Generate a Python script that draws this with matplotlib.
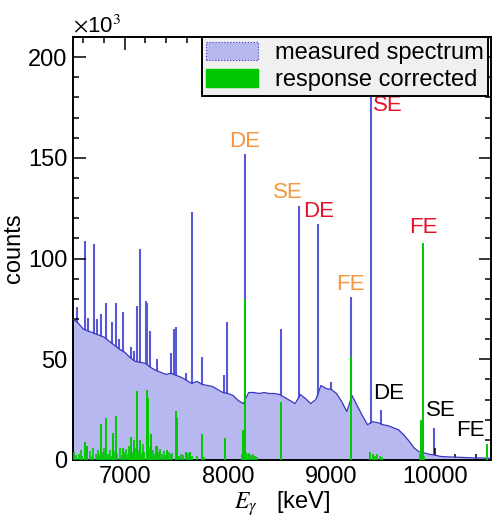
import numpy as np
import matplotlib
matplotlib.use("Agg")
import matplotlib.pyplot as plt
from matplotlib.patches import Patch
from matplotlib.ticker import MultipleLocator

plt.rcParams['font.family'] = ['Liberation Sans', 'DejaVu Sans']
plt.rcParams['mathtext.fontset'] = 'stix'

# measured continuum (keV, counts in 1e3)
cont_e = [6500, 6550, 6600, 6650, 6700, 6750, 6800, 6850, 6900, 6950,
          7000, 7050, 7100, 7150, 7200, 7250, 7300, 7350, 7400, 7450,
          7500, 7550, 7600, 7650, 7700, 7750, 7800, 7850, 7900, 7950,
          8000, 8050, 8100, 8150, 8200, 8250, 8300, 8350, 8400, 8450,
          8500, 8550, 8600, 8650, 8700, 8750, 8800, 8850, 8900, 8950,
          9000, 9050, 9100, 9150, 9200, 9250, 9300, 9350, 9400, 9450,
          9500, 9550, 9600, 9650, 9700, 9750, 9800, 9850, 9900, 9950,
          10000, 10050, 10100, 10150, 10200, 10250, 10300, 10350, 10400,
          10450, 10500, 10550]
cont_c = [70, 68, 65, 64, 63, 62, 61, 59, 57, 55,
          53.5, 51, 49, 48.5, 48, 46, 44.5, 43.5, 42.5, 43,
          42, 41, 39.5, 38, 39, 37.5, 37, 36.5, 35, 33.5,
          33, 32, 29.5, 28, 33.5, 33.5, 33, 33.5, 33, 33,
          32.5, 31, 29.5, 28, 32.5, 30.5, 28, 30, 37, 35.5,
          35, 33, 29, 24, 32, 27, 22, 17.5, 19, 18.5,
          17.5, 17, 16, 15, 12.5, 9.5, 6, 4, 3.5, 2.8,
          2.5, 1.8, 1.6, 1.5, 1.4, 1.3, 1.2, 1.1, 1.0,
          1.0, 0.9, 0.9]

# measured peaks (keV, counts in 1e3)
peak_e = [6542, 6613, 6645, 6703, 6729, 6768, 6816, 6881, 6913, 6945,
          6984, 7058, 7090, 7123, 7145, 7203, 7216, 7245, 7316, 7452,
          7477, 7494, 7590, 7655, 7752, 7961, 7994, 8162, 8510, 8684,
          8868, 8994, 9188, 9381, 9478, 9885, 9991]
peak_c = [76, 108.6, 70.6, 107, 70, 72.6, 78, 68.3, 78, 60,
          73.3, 55.9, 54, 76.6, 104.5, 79, 78, 64, 50, 53,
          65, 66, 43, 123, 51, 42, 68.5, 152, 65, 126,
          117, 38.5, 81, 180, 25, 20, 16]

# response corrected (keV, counts in 1e3)
resp_e = [6613, 6640, 6768, 6823, 6887, 6913, 6984, 7058, 7090, 7123,
          7150, 7213, 7226, 7258, 7316, 7413, 7494, 7503, 7590, 7630,
          7752, 7974, 8150, 8162, 8510, 9188, 9372, 9400, 9872, 9885,
          10504]
resp_c = [9, 7, 17.7, 21, 13.6, 22, 6, 11.4, 10, 34.3,
          10, 34.7, 31, 13, 7, 5, 24.4, 21, 4, 4,
          12.8, 11, 15, 80, 29, 51, 4, 3, 20, 107.5,
          8]
noise_e = [6510, 6525, 6560, 6575, 6590, 6625, 6660, 6680, 6690, 6720,
           6740, 6755, 6790, 6800, 6840, 6860, 6870, 6900, 6930, 6955,
           6970, 7000, 7015, 7030, 7045, 7070, 7080, 7105, 7135, 7165,
           7180, 7190, 7235, 7270, 7285, 7300, 7330, 7345, 7360, 7380,
           7395, 7430, 7445, 7460, 7530, 7545, 7560, 7610, 7650, 7700,
           7770, 8140, 8175, 8190, 8205, 8220, 8240, 8260, 8280, 9420,
           9440, 9470, 9490, 9860, 9900]
noise_c = [4, 2.5, 3, 5, 2, 3.5, 4.5, 2, 6, 3,
           5, 2.5, 4, 6, 3, 5, 2, 4.5, 3, 6,
           2.5, 4, 5.5, 3, 7, 4, 2.5, 6, 5, 3.5,
           8, 4, 6.5, 5, 3, 7, 4, 5.5, 3, 4.5,
           2.5, 4, 3, 3.5, 2, 3, 2.5, 3.5, 2, 2,
           1.5, 3, 4, 3, 3.5, 2.5, 3, 2, 1.5, 2,
           3, 2, 1.5, 3, 2]

labels = ["DE", "SE", "DE", "SE", "FE", "FE", "DE", "SE", "FE"]
label_e = [8162, 8583, 8873, 9551, 9182, 9890, 9551, 10059, 10345]
label_c = [153, 127.5, 118, 171, 82, 110, 28, 19.5, 9.5]
orange, red = "#f7963c", "#e8102a"
label_col = [orange, orange, red, red, orange, red, "black", "black", "black"]

lav = "#b8b8f0"
blue = "#3636c0"
peakblue = "#5858d8"
green = "#00c800"

fig = plt.figure(figsize=(4.93, 5.18), dpi=100)
ax = fig.add_axes([0.148, 0.112, 0.848, 0.8166])

ax.vlines(peak_e, 0, peak_c, color=peakblue, lw=1.5, zorder=1)
ax.fill_between(cont_e, 0, cont_c, color=lav, lw=0, zorder=2)
ax.plot(cont_e, cont_c, color=blue, lw=0.9, zorder=3)
ax.vlines(noise_e, 0, noise_c, color=green, lw=1.2, zorder=4)
ax.vlines(resp_e, 0, resp_c, color=green, lw=1.4, zorder=4)

for t, e, c, col in zip(labels, label_e, label_c, label_col):
    ax.text(e, c, t, color=col, fontsize=16, ha="center", va="bottom", zorder=6)

ax.set_xlim(6500, 10545)
ax.set_ylim(0, 210)
ax.xaxis.set_major_locator(MultipleLocator(1000))
ax.xaxis.set_minor_locator(MultipleLocator(200))
ax.yaxis.set_major_locator(MultipleLocator(50))
ax.yaxis.set_minor_locator(MultipleLocator(10))
ax.tick_params(which="both", direction="in", top=True, right=True,
               labelsize=17, width=1.1, pad=4)
ax.tick_params(which="major", length=9)
ax.tick_params(which="minor", length=4.5)
for s in ax.spines.values():
    s.set_linewidth(1.4)

ax.set_ylabel("counts", fontsize=17, labelpad=2)
ax.set_xlabel(r"$E_{\gamma}$   [keV]", fontsize=17, labelpad=1)
ax.text(0.0, 1.0, r"$\times$10$^3$", transform=ax.transAxes,
        fontsize=16, ha="left", va="bottom")

handles = [Patch(facecolor=lav, edgecolor=blue, linestyle=":", lw=0.8),
           Patch(facecolor=green, edgecolor=green)]
leg = ax.legend(handles, ["measured spectrum", "response corrected"],
                loc="upper left", bbox_to_anchor=(0.308, 1.0),
                borderaxespad=0, fontsize=17, frameon=True, fancybox=False,
                framealpha=1, facecolor="#f0f0f0", edgecolor="black",
                handlelength=2.2, handleheight=0.8, handletextpad=0.7,
                labelspacing=0.2, borderpad=0.2)
leg.get_frame().set_linewidth(1.4)
leg.set_zorder(10)

fig.savefig("out.png", dpi=100)
